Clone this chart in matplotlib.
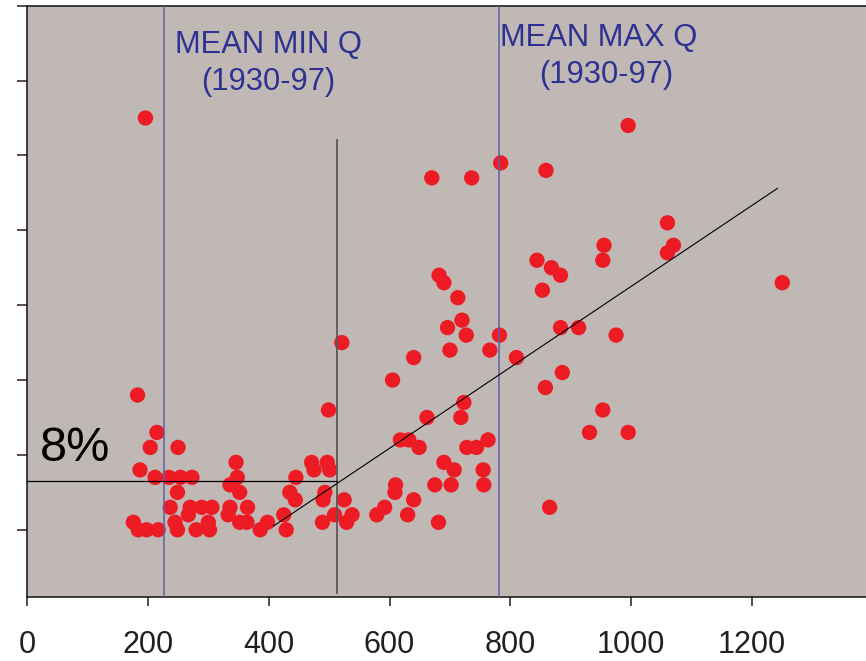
import matplotlib
matplotlib.use("Agg")
import matplotlib.pyplot as plt

# Discharge (x) and percentage (y) of each sample
discharge = [
    196, 995, 784, 670, 736, 859, 1060, 955, 1070, 1060, 953, 844, 868, 883,
    853, 1250, 883, 913, 975, 810, 886, 858, 953, 931, 995, 865,
    682, 690, 713, 720, 696, 727, 782, 700, 766, 640, 521, 605, 499, 723,
    662, 718, 618, 632, 649, 728, 744, 763, 690, 707, 755, 756, 702, 675,
    610, 609, 640, 592, 579, 630, 681,
    471, 475, 497, 501, 493, 490, 525, 509, 538, 489, 529,
    183, 215, 204, 250, 187, 212, 235, 254, 273, 249, 237, 176, 184, 198,
    217, 245, 249, 270, 289, 306, 267, 300, 280, 302,
    346, 348, 336, 352, 336, 333, 365, 352, 364, 386, 398, 425, 429, 435,
    444, 445,
]
percent = [
    32.5, 32.0, 29.5, 28.5, 28.5, 29.0, 25.5, 24.0, 24.0, 23.5, 23.0, 23.0, 22.5, 22.0,
    21.0, 21.5, 18.5, 18.5, 18.0, 16.5, 15.5, 14.5, 13.0, 11.5, 11.5, 6.5,
    22.0, 21.5, 20.5, 19.0, 18.5, 18.0, 18.0, 17.0, 17.0, 16.5, 17.5, 15.0, 13.0, 13.5,
    12.5, 12.5, 11.0, 11.0, 10.5, 10.5, 10.5, 11.0, 9.5, 9.0, 9.0, 8.0, 8.0, 8.0,
    8.0, 7.5, 7.0, 6.5, 6.0, 6.0, 5.5,
    9.5, 9.0, 9.5, 9.0, 7.5, 7.0, 7.0, 6.0, 6.0, 5.5, 5.5,
    14.0, 11.5, 10.5, 10.5, 9.0, 8.5, 8.5, 8.5, 8.5, 7.5, 6.5, 5.5, 5.0, 5.0,
    5.0, 5.5, 5.0, 6.5, 6.5, 6.5, 6.0, 5.5, 5.0, 5.0,
    9.5, 8.5, 8.0, 7.5, 6.5, 6.0, 6.5, 5.5, 5.5, 5.0, 5.5, 6.0, 5.0, 7.5,
    7.0, 8.5,
]

x_ticks = [0, 200, 400, 600, 800, 1000, 1200]
y_ticks = [5, 10, 15, 20, 25, 30, 35, 40]

mean_min_q = 227
mean_max_q = 781
threshold_q = 513
threshold_pct = 8.26
threshold_top = 31.0
trend_q = [408, 1242]
trend_pct = [5.25, 27.8]

BACKGROUND = "#c0b8b5"
RED = "#ed1c24"
NAVY = "#2e3192"
LINE_BLUE = "#5b5ea8"
INK = "#231f20"


def style_axes(ax):
    """Background, spines and ticks like the original figure."""
    ax.set_facecolor(BACKGROUND)
    ax.set_xlim(0, 1388.6)
    ax.set_ylim(0.51, 40.0)
    ax.spines["right"].set_visible(False)
    for side in ("left", "top", "bottom"):
        ax.spines[side].set_color(INK)
        ax.spines[side].set_linewidth(1.2)
    ax.set_xticks(x_ticks)
    ax.set_xticklabels([str(t) for t in x_ticks], fontsize=22,
                       family="Liberation Sans", color=INK)
    ax.set_yticks(y_ticks)
    ax.set_yticklabels([])
    ax.tick_params(axis="x", direction="out", length=6.5, width=1.1,
                   color=INK, pad=17.5)
    ax.tick_params(axis="y", direction="out", length=7.2, width=1.1, color=INK)


def draw_chart(ax):
    """Scatter points, reference lines and labels."""
    ax.scatter(discharge, percent, s=122, color=RED, edgecolors="none",
               zorder=2)

    # mean min / max discharge lines
    for q in (mean_min_q, mean_max_q):
        ax.axvline(q, color=LINE_BLUE, linewidth=1.1, zorder=3)

    # threshold lines and trend
    ax.plot([threshold_q, threshold_q], [0.77, threshold_top],
            color="#5a5556", linewidth=1.4, alpha=0.9, zorder=3)
    ax.plot([0, threshold_q], [threshold_pct, threshold_pct],
            color="black", linewidth=0.9, zorder=3)
    ax.plot(trend_q, trend_pct, color="black", linewidth=0.8, zorder=3)

    font = dict(family="Liberation Sans", color=NAVY, fontsize=22.2,
                ha="center", va="baseline")
    ax.text(399, 36.83, "MEAN MIN Q", **font)
    ax.text(400, 34.38, "(1930-97)", **font)
    ax.text(947, 37.34, "MEAN MAX Q", **font)
    ax.text(958, 34.86, "(1930-97)", **font)

    ax.text(21.5, 9.6, "8%", family="Liberation Sans", color="black",
            fontsize=35, ha="left", va="baseline")


def main():
    fig = plt.figure(figsize=(8.66, 6.61), dpi=100)
    ax = fig.add_axes([27 / 866, 64 / 661, 839 / 866, 591.3 / 661])
    style_axes(ax)
    draw_chart(ax)
    fig.savefig("out.png", dpi=100)


if __name__ == "__main__":
    main()
